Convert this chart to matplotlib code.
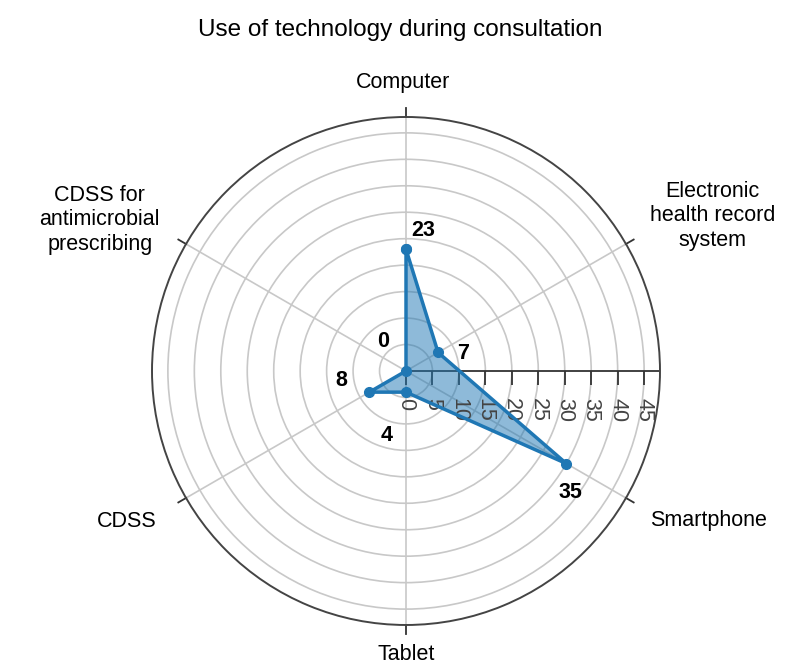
import matplotlib
matplotlib.use("Agg")
import matplotlib.pyplot as plt
import numpy as np

plt.rcParams['font.family'] = ['Liberation Sans', 'DejaVu Sans']

categories = ["Computer", "Electronic\nhealth record\nsystem", "Smartphone",
              "Tablet", "CDSS", "CDSS for\nantimicrobial\nprescribing"]
values = [23, 7, 35, 4, 8, 0]
r_ticks = [0, 5, 10, 15, 20, 25, 30, 35, 40, 45]
r_max = 48

# text offsets in pixels (value labels / category labels)
value_offsets = [(17, 19), (25, -1), (4, -29), (-19, -43), (-28, 12), (-23, 29)]
cat_offsets = [(-3, 34), (24, 28), (24, -23), (0, -30), (-29, -24), (-26, 24)]
cat_ha = ['center', 'left', 'left', 'center', 'right', 'right']

n = len(categories)
angles = np.arange(n) * 2 * np.pi / n

fig = plt.figure(figsize=(8, 6.67), dpi=100)
ax = fig.add_axes([0.19, 0.063, 0.635, 0.7616], projection='polar')
ax.set_theta_offset(np.pi / 2)
ax.set_theta_direction(-1)

a_closed = np.append(angles, angles[0])
v_closed = np.append(values, values[0])
ax.fill(a_closed, v_closed, color='#1f77b4', alpha=0.5, zorder=3)
ax.plot(a_closed, v_closed, color='#1f77b4', lw=2.5, marker='o', ms=7, zorder=4)

for a, v, off in zip(angles, values, value_offsets):
    ax.annotate(str(v), xy=(a, v), xytext=off, textcoords='offset pixels',
                ha='center', va='center', fontsize=15.5, fontweight='bold', zorder=5)

# category labels just outside the circle, with small outward ticks
for a, c, off, ha in zip(angles, categories, cat_offsets, cat_ha):
    ax.plot([a, a], [r_max, r_max * 1.035], color='#333333', lw=1.3, clip_on=False)
    ax.annotate(c, xy=(a, r_max), xytext=off, textcoords='offset pixels',
                ha=ha, va='center', fontsize=15.5, multialignment='center',
                annotation_clip=False)

# radial axis pointing east, with ticks and rotated labels
east = np.pi / 2
ax.plot([east, east], [0, r_max], color='#333333', lw=1.3, zorder=2)
ax.plot([east] * len(r_ticks), r_ticks, ls='none', marker=3, ms=10,
        mew=1.3, color='#333333', zorder=2)
for t in r_ticks:
    ax.annotate(str(t), xy=(east, t), xytext=(0, -27), textcoords='offset pixels',
                ha='center', va='top', rotation=-90, fontsize=15.5, color='#444444')

ax.set_xlim(0, 2 * np.pi)
ax.set_ylim(0, r_max)
ax.set_yticks(r_ticks)
ax.set_yticklabels([])

ax.set_xticks(angles)
ax.set_xticklabels([])

ax.grid(color='#c8c8c8', lw=1.2)
ax.spines['polar'].set_color('#444444')
ax.spines['polar'].set_linewidth(1.4)

fig.suptitle("Use of technology during consultation", fontsize=17.5, y=0.972)

fig.savefig("out.png", dpi=100)
